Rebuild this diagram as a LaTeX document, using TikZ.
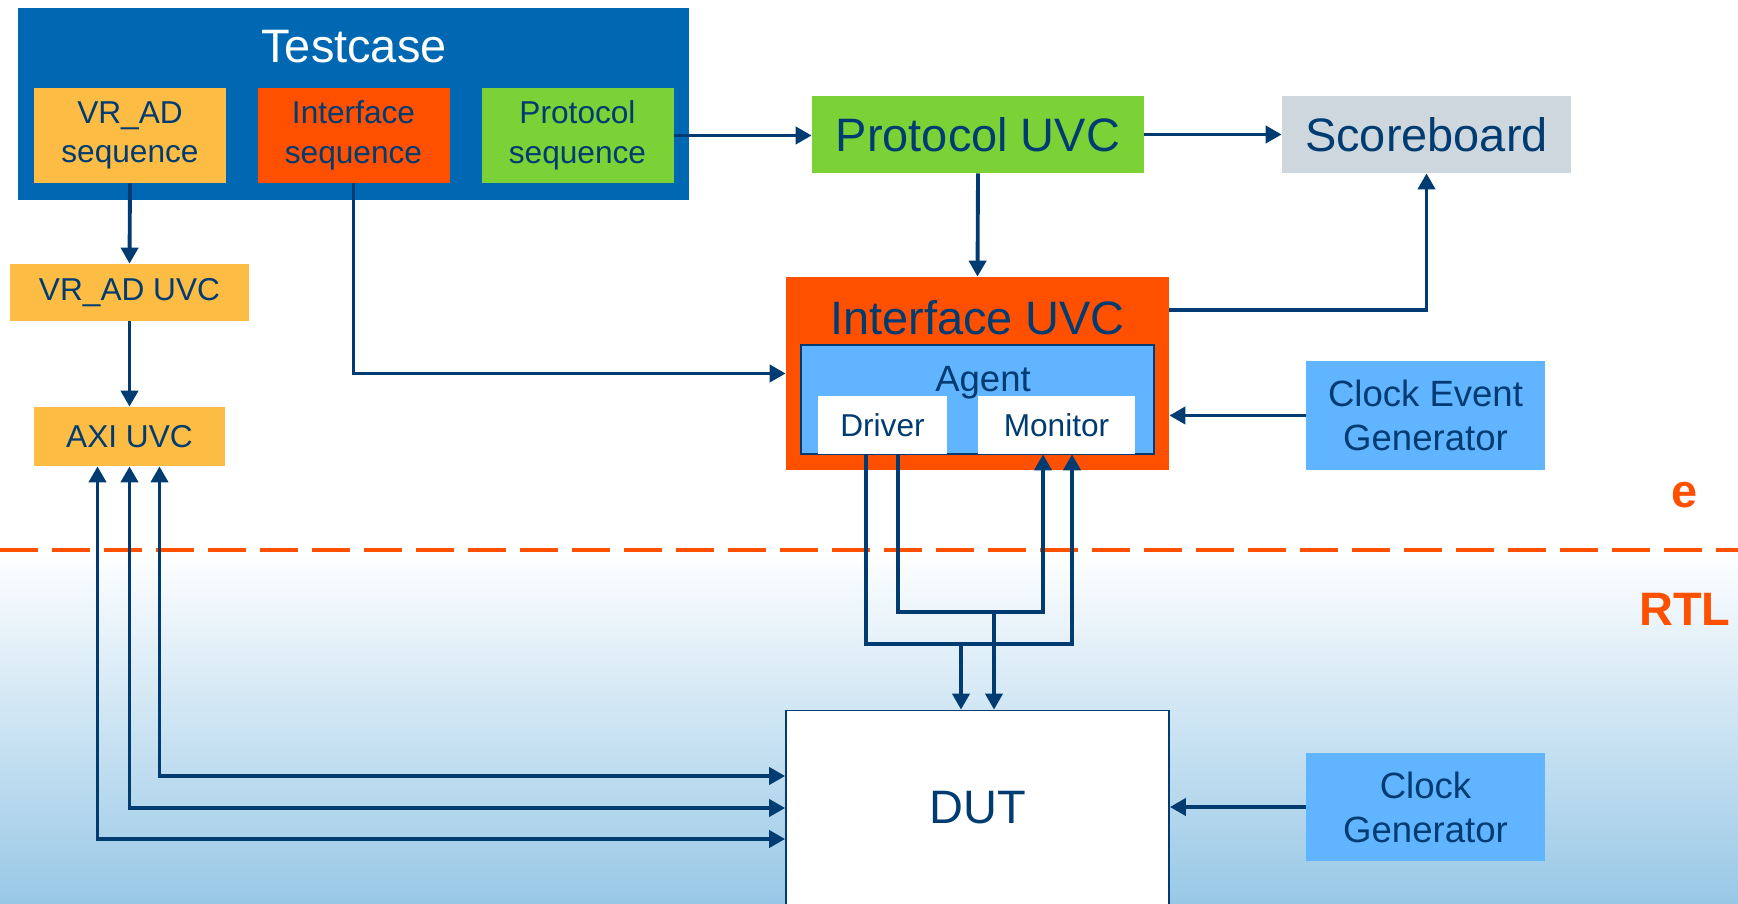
\documentclass[tikz,border=0pt]{standalone}
\usepackage{fontspec}
\setmainfont{Liberation Sans}
\usepackage{xcolor}
\usetikzlibrary{arrows.meta, positioning, calc}

\definecolor{tcblue}{RGB}{0,104,178}
\definecolor{seqyellow}{RGB}{253,188,68}
\definecolor{ifred}{RGB}{255,80,0}
\definecolor{protgreen}{RGB}{122,210,54}
\definecolor{sbgray}{RGB}{207,215,222}
\definecolor{agentblue}{RGB}{97,180,255}
\definecolor{navy}{RGB}{0,60,113}
\definecolor{bgblue}{RGB}{152,200,230}

\newcommand{\bigtxt}{\fontsize{26.7}{30}\selectfont}
\newcommand{\midtxt}{\fontsize{20.8}{25}\selectfont}
\newcommand{\smalltxt}{\fontsize{18}{22.5}\selectfont}

\begin{document}
\begin{tikzpicture}[
    box/.style={rectangle, inner sep=0pt, align=center, text=navy},
    link/.style={draw=navy, line width=2.2pt, -{Triangle[length=0.32cm,width=0.34cm]}},
    bilink/.style={link, {Triangle[length=0.32cm,width=0.34cm]}-{Triangle[length=0.32cm,width=0.34cm]}}
]
\useasboundingbox (0,0) rectangle (34.76,-18.08);
\clip (0,0) rectangle (34.76,-18.08);

% background below the e / RTL border
\shade[top color=white, bottom color=bgblue] (0,-11.0) rectangle (34.76,-18.08);
\draw[ifred, line width=2.3pt, dash pattern=on 0.76cm off 0.28cm] (0,-11.0) -- (34.76,-11.0);
\node[text=ifred, font=\bigtxt\bfseries] (elabel) at (33.70,-9.90) {e};
\node[text=ifred, font=\bigtxt\bfseries] (rtllabel) at (33.70,-12.18) {RTL};

% testcase
\node[box, fill=tcblue, minimum width=13.42cm, minimum height=3.84cm] (testcase) at (7.07,-2.08) {};
\node[text=white, font=\bigtxt] (tctitle) at (7.08,-0.94) {Testcase};
\node[box, fill=seqyellow, minimum width=3.84cm, minimum height=1.90cm, font=\smalltxt] (vrseq) at (2.60,-2.71) {VR\_AD\\sequence};
\node[box, fill=ifred, minimum width=3.84cm, minimum height=1.90cm, font=\smalltxt] (ifseq) at (7.07,-2.71) {Interface\\sequence};
\node[box, fill=protgreen, minimum width=3.84cm, minimum height=1.90cm, font=\smalltxt] (protseq) at (11.55,-2.71) {Protocol\\sequence};

% UVCs
\node[box, fill=protgreen, minimum width=6.64cm, minimum height=1.54cm, font=\bigtxt] (protuvc) at (19.56,-2.69) {Protocol UVC};
\node[box, fill=sbgray, minimum width=5.78cm, minimum height=1.54cm, font=\bigtxt] (scoreboard) at (28.53,-2.69) {Scoreboard};
\node[box, fill=seqyellow, minimum width=4.78cm, minimum height=1.14cm, font=\smalltxt] (vruvc) at (2.59,-5.85) {VR\_AD UVC};
\node[box, fill=seqyellow, minimum width=3.82cm, minimum height=1.18cm, font=\smalltxt] (axiuvc) at (2.59,-8.73) {AXI UVC};

\node[box, fill=ifred, minimum width=7.66cm, minimum height=3.86cm] (ifuvc) at (19.55,-7.47) {};
\node[text=navy, font=\bigtxt] (iftitle) at (19.55,-6.36) {Interface UVC};
\node[box, fill=agentblue, draw=navy, line width=1pt, minimum width=7.06cm, minimum height=2.18cm] (agent) at (19.55,-7.99) {};
\node[text=navy, font=\midtxt] (agtitle) at (19.66,-7.66) {Agent};
\node[box, fill=white, minimum width=2.58cm, minimum height=1.16cm, font=\smalltxt] (driver) at (17.65,-8.50) {Driver};
\node[box, fill=white, minimum width=3.14cm, minimum height=1.16cm, font=\smalltxt] (monitor) at (21.13,-8.50) {Monitor};

\node[box, fill=agentblue, minimum width=4.78cm, minimum height=2.18cm, font=\midtxt] (clkev) at (28.51,-8.31) {Clock Event\\Generator};
\node[box, fill=agentblue, minimum width=4.78cm, minimum height=2.16cm, font=\midtxt] (clkgen) at (28.51,-16.14) {Clock\\Generator};
\node[box, fill=white, draw=navy, line width=1pt, minimum width=7.66cm, minimum height=3.90cm, font=\bigtxt] (dut) at (19.55,-16.16) {DUT};

% connectors
\draw[link] (vrseq.south) -- (vruvc.north);
\draw[link] (vruvc.south) -- (axiuvc.north);
\draw[link] (ifseq.south) |- (ifuvc.west);
\draw[link] (protseq.east) -- (protseq.east -| protuvc.west);
\draw[link] (protuvc.east) -- (protuvc.east -| scoreboard.west);
\draw[link] (protuvc.south) -- (ifuvc.north);
\draw[link] ($(ifuvc.north east)+(0,-0.66)$) -| (scoreboard.south);
\draw[link] (clkev.west) -- (clkev.west -| ifuvc.east);
\draw[link] (clkgen.west) -- (clkgen.west -| dut.east);

\foreach \dx/\dy in {0.6/0.64, 0/0, -0.64/-0.62} {
    \draw[bilink] ([xshift=\dx cm]axiuvc.south) |- ([yshift=\dy cm]dut.west);
}

\coordinate (busa) at (19.88,-12.24);
\coordinate (busb) at (19.22,-12.88);
\draw[link] ([xshift=0.31cm]driver.south) |- (busa) -| ([xshift=-0.27cm]monitor.south);
\draw[link] ([xshift=-0.33cm]driver.south) |- (busb) -| ([xshift=0.31cm]monitor.south);
\draw[link] (busa) -- (busa |- dut.north);
\draw[link] (busb) -- (busb |- dut.north);
\end{tikzpicture}
\end{document}
